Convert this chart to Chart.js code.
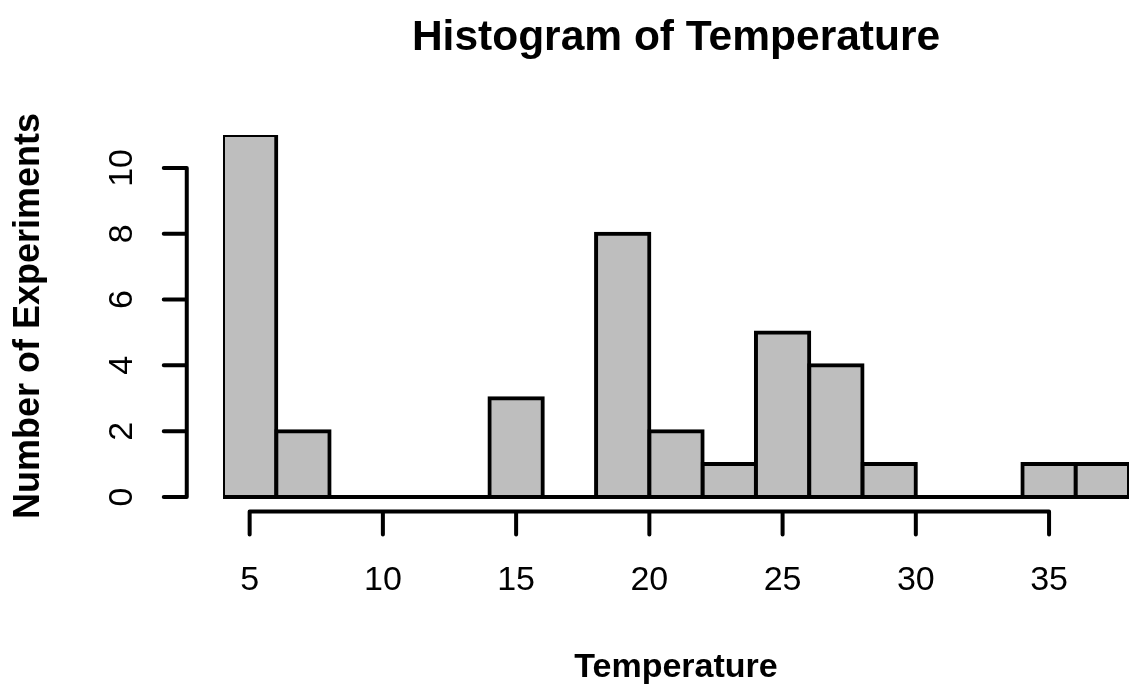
<!DOCTYPE html>
<html>
<head>
<meta charset="utf-8">
<title>Histogram of Temperature</title>
<script src="https://cdn.jsdelivr.net/npm/chart.js@4/dist/chart.umd.min.js"></script>
<style>
  html, body { margin: 0; padding: 0; background: #ffffff; }
  #wrap { width: 1129px; height: 685px; }
</style>
</head>
<body>
<div id="wrap"><canvas id="hist" width="1129" height="685"></canvas></div>
<script>
// Histogram bins (width 2) and the number of experiments in each
const binEdges = [4, 6, 8, 10, 12, 14, 16, 18, 20, 22, 24, 26, 28, 30, 32, 34, 36, 38];
const counts   = [11, 2, 0, 0, 0, 3, 0, 8, 2, 1, 5, 4, 1, 0, 0, 1, 1];

// Axis tick values
const xTicks = [5, 10, 15, 20, 25, 30, 35];
const yTicks = [0, 2, 4, 6, 8, 10];

// Text
const titleText = 'Histogram of Temperature';
const xLabelText = 'Temperature';
const yLabelText = 'Number of Experiments';

const binWidth = binEdges[1] - binEdges[0];
const barData = counts.map((c, i) => ({
  x: (binEdges[i] + binEdges[i + 1]) / 2,
  y: c
}));

const LW = 4;
const BASE_FONT = '"Liberation Sans", Arial, Helvetica, sans-serif';

// Base-graphics style axes, baseline, titles drawn through the chart scales
const histDecor = {
  id: 'histDecor',
  afterDatasetsDraw(chart) {
    const ctx = chart.ctx;
    const xs = chart.scales.x;
    const ys = chart.scales.y;
    const xRange = xs.max - xs.min;
    const yRange = ys.max - ys.min;
    // axes sit at the edge of the 4%-extended plotting region
    const axisY = ys.getPixelForValue(ys.min - 0.04 * yRange);
    const axisX = xs.getPixelForValue(xs.min - 0.04 * xRange);
    const plotLeft = axisX;
    const plotRight = xs.getPixelForValue(xs.max + 0.04 * xRange);
    const plotTop = ys.getPixelForValue(ys.max + 0.04 * yRange);
    const midX = (plotLeft + plotRight) / 2;
    const midY = (plotTop + axisY) / 2;
    const tick = 23;

    ctx.save();
    ctx.strokeStyle = '#000000';
    ctx.fillStyle = '#000000';
    ctx.lineWidth = LW;
    ctx.lineJoin = 'round';

    // zero-height bins still show as a line along the baseline
    const y0 = ys.getPixelForValue(0);
    ctx.lineCap = 'butt';
    ctx.beginPath();
    ctx.moveTo(xs.getPixelForValue(binEdges[0]), y0);
    ctx.lineTo(xs.getPixelForValue(binEdges[binEdges.length - 1]), y0);
    ctx.stroke();
    ctx.lineCap = 'round';

    // x axis
    ctx.beginPath();
    ctx.moveTo(xs.getPixelForValue(xTicks[0]), axisY);
    ctx.lineTo(xs.getPixelForValue(xTicks[xTicks.length - 1]), axisY);
    xTicks.forEach(v => {
      const px = xs.getPixelForValue(v);
      ctx.moveTo(px, axisY);
      ctx.lineTo(px, axisY + tick);
    });
    ctx.stroke();

    ctx.font = '34px ' + BASE_FONT;
    ctx.textAlign = 'center';
    ctx.textBaseline = 'alphabetic';
    xTicks.forEach(v => {
      ctx.fillText(String(v), xs.getPixelForValue(v), axisY + 79);
    });

    // y axis
    ctx.beginPath();
    ctx.moveTo(axisX, ys.getPixelForValue(yTicks[0]));
    ctx.lineTo(axisX, ys.getPixelForValue(yTicks[yTicks.length - 1]));
    yTicks.forEach(v => {
      const py = ys.getPixelForValue(v);
      ctx.moveTo(axisX, py);
      ctx.lineTo(axisX - tick, py);
    });
    ctx.stroke();

    yTicks.forEach(v => {
      ctx.save();
      ctx.translate(axisX - 55, ys.getPixelForValue(v));
      ctx.rotate(-Math.PI / 2);
      ctx.fillText(String(v), 0, 0);
      ctx.restore();
    });

    // titles
    ctx.font = 'bold 42.5px ' + BASE_FONT;
    ctx.fillText(titleText, midX, 50);

    ctx.font = 'bold 34px ' + BASE_FONT;
    ctx.fillText(xLabelText, midX, 677);

    ctx.font = 'bold 36px ' + BASE_FONT;
    ctx.save();
    ctx.translate(39, midY);
    ctx.rotate(-Math.PI / 2);
    ctx.fillText(yLabelText, 0, 0);
    ctx.restore();

    ctx.restore();
  }
};

new Chart(document.getElementById('hist'), {
  type: 'bar',
  data: {
    datasets: [{
      data: barData,
      backgroundColor: '#bebebe',
      borderColor: '#000000',
      borderWidth: LW,
      borderSkipped: false,
      inflateAmount: LW / 2,
      barPercentage: 1,
      categoryPercentage: 1
    }]
  },
  options: {
    responsive: false,
    devicePixelRatio: 1,
    animation: false,
    layout: { padding: { left: 223, right: 0, top: 135, bottom: 188 } },
    plugins: {
      legend: { display: false },
      tooltip: { enabled: false },
      title: { display: false }
    },
    scales: {
      x: {
        type: 'linear',
        display: false,
        min: binEdges[0],
        max: binEdges[binEdges.length - 1],
        offset: false,
        ticks: { stepSize: binWidth }
      },
      y: {
        type: 'linear',
        display: false,
        min: 0,
        max: Math.max(...counts)
      }
    }
  },
  plugins: [histDecor]
});
</script>
</body>
</html>
